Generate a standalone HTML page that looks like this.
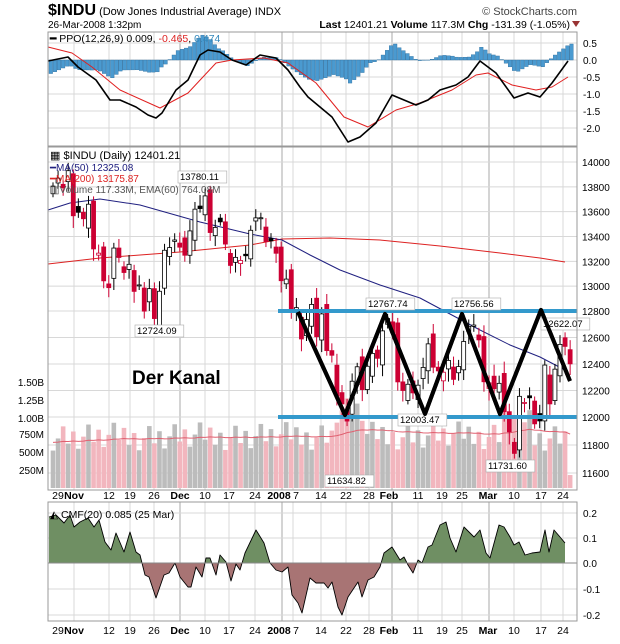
<!DOCTYPE html>
<html><head><meta charset="utf-8"><style>
body{margin:0;background:#fff;width:620px;height:639px;overflow:hidden;font-family:"Liberation Sans",sans-serif}
svg text{font-family:"Liberation Sans",sans-serif}
</style></head><body>
<svg id="s" width="620" height="639" xmlns="http://www.w3.org/2000/svg"></svg>
<script>
const C=[13806,13870,13792,13930,13567,13595,13543,13660,13300,13266,13043,12988,13307,13231,13110,13176,12958,13010,12799,12980,12743,12959,13289,13311,13372,13314,13249,13445,13620,13625,13727,13432,13473,13518,13339,13167,13232,13207,13245,13450,13550,13551,13359,13365,13265,13044,13057,12800,12827,12589,12735,12853,12606,12778,12501,12466,12159,12099,11971,12270,12379,12207,12383,12480,12443,12650,12743,12635,12265,12200,12247,12182,12240,12374,12552,12376,12348,12338,12427,12284,12381,12570,12684,12694,12582,12266,12258,12213,12254,12040,11894,11740,12156,12110,12145,11951,11972,12392,12099,12361,12548,12533,12401];
const X=i=>53+5.07*i;
function Y(p){const P=[[14200,137],[14000,162],[12800,311],[12000,417],[11600,473],[11400,501]];
for(let k=0;k<P.length-1;k++){const a=P[k],b=P[k+1];if(p<=a[0]&&p>=b[0])return a[1]+(a[0]-p)/(a[0]-b[0])*(b[1]-a[1]);}return p>14200?137:501;}
let s='';const L=48,R=577;
function txt(x,y,t,sz,extra){s+=`<text x="${x}" y="${y}" font-size="${sz}" ${extra||''}>${t}</text>`;}
// header
txt(48,15,'<tspan font-weight="bold" font-size="16">$INDU</tspan> (Dow Jones Industrial Average) INDX',11);
txt(577,15,'© StockCharts.com',11,'text-anchor="end" fill="#444"');
txt(48,28,'26-Mar-2008 1:32pm',10);
txt(570,28,'<tspan font-weight="bold">Last</tspan> 12401.21  <tspan font-weight="bold">Volume</tspan> 117.3M  <tspan font-weight="bold">Chg</tspan> -131.39 (-1.05%)',10.5,'text-anchor="end"');
s+=`<polygon points="572,21 580,21 576,27" fill="#993333"/>`;
// panels
const panels=[[32,146],[147,490],[502,621]];
const weeks=[74,109,130,154,180,205,229,255,282,293,321,346,369,392,418,442,462,489,514,541,563];
const months=[180,282,392,489];
panels.forEach(([t,b])=>{
 weeks.forEach(x=>s+=`<line x1="${x}" y1="${t}" x2="${x}" y2="${b}" stroke="#d8d8d8"/>`);
 months.forEach(x=>s+=`<line x1="${x}" y1="${t}" x2="${x}" y2="${b}" stroke="#aaa"/>`);
});
// PPO grid
[43,60,77,94,111,128].forEach((y,k)=>{s+=`<line x1="${L}" y1="${y}" x2="${R}" y2="${y}" stroke="#d8d8d8"/>`;txt(583,y+4,['0.5','0.0','-0.5','-1.0','-1.5','-2.0'][k],10);});
// main grid
const plab=[14000,13800,13600,13400,13200,13000,12800,12600,12400,12200,12000,11800,11600];
plab.forEach(p=>{const y=Y(p);s+=`<line x1="${L}" y1="${y}" x2="${R}" y2="${y}" stroke="#d8d8d8"/>`;txt(582,y+4,p,10);});
[[382,'1.50B'],[400,'1.25B'],[418,'1.00B'],[434,'750M'],[452,'500M'],[470,'250M']].forEach(([y,t])=>txt(44,y+4,t,10,'text-anchor="end"'));
// CMF grid
[[513,'0.2'],[538,'0.1'],[563,'0.0'],[589,'-0.1'],[615,'-0.2']].forEach(([y,t])=>{s+=`<line x1="${L}" y1="${y}" x2="${R}" y2="${y}" stroke="#d8d8d8"/>`;txt(583,y+4,t,10);});
// volume
let ema=[];let e=640;
for(let i=0;i<C.length;i++){
 let v=520+((i*137)%97)*4.2+(i>55&&i<62?350:0)+(i>88&&i<95?250:0);if(i==102)v=180;
 e=e+(v-e)*0.05;ema.push(e);
 const h=v*0.072;const dn=i>0&&C[i]<C[i-1];
 s+=`<rect x="${X(i)-2.3}" y="${488-h}" width="4.6" height="${h}" fill="${dn?'#f2b6be':'#bcbcbc'}"/>`;
}
s+=`<polyline fill="none" stroke="#e06070" stroke-width="1" points="${ema.map((v,i)=>X(i)+','+(488-v*0.072)).join(' ')}"/>`;
// MAs
function pl(pts,c,w){s+=`<polyline fill="none" stroke="${c}" stroke-width="${w}" stroke-linejoin="round" points="${pts.map(p=>p.join(',')).join(' ')}"/>`;}
pl([[48,264],[100,258],[180,252],[250,245],[282,239],[330,238],[380,240],[440,246],[500,253],[540,258],[565,262]],'#dd2222',1);
pl([[48,210],[70,203],[100,199],[140,205],[200,222],[250,234],[282,240],[310,255],[340,270],[380,285],[420,298],[450,314],[480,330],[510,345],[540,357],[565,370]],'#202080',1);
// candles
for(let i=0;i<C.length;i++){
 const c=C[i],o=i?C[i-1]+((i*53)%7-3)*25:c-60;
 const hi=Math.max(o,c)+30+(i*31)%60,lo=Math.min(o,c)-30-(i*17)%70;
 const x=X(i),dn=i>0&&c<C[i-1],col=dn?'#cc0033':'#000';
 s+=`<line x1="${x}" y1="${Y(hi)}" x2="${x}" y2="${Y(lo)}" stroke="${col}"/>`;
 const yt=Y(Math.max(o,c)),yb=Y(Math.min(o,c));
 s+=`<rect x="${x-2}" y="${yt}" width="4" height="${Math.max(1,yb-yt)}" fill="${c<o?(dn?'#cc0033':'#000'):'#fff'}" stroke="${col}" stroke-width="0.8"/>`;
}
// channel
s+=`<line x1="278" y1="311" x2="577" y2="311" stroke="#3399cc" stroke-width="4"/><line x1="278" y1="417" x2="577" y2="417" stroke="#3399cc" stroke-width="4"/>`;
pl([[298,312],[345,415],[385,314],[425,414],[462,314],[500,414],[541,310],[570,381]],'#000',4);
function box(x,y,t){s+=`<rect x="${x}" y="${y-9}" width="${t.length*5.6+4}" height="12" fill="#fff" stroke="#aaa" stroke-width="0.6"/>`;txt(x+2,y,t,9.5);}
box(178,180,'13780.11');box(135,334,'12724.09');box(366,307,'12767.74');box(452,307,'12756.56');box(541,327,'12622.07');box(325,484,'11634.82');box(486,469,'11731.60');box(398,423,'12003.47');
pl([[298,312],[345,415],[385,314],[425,414],[462,314],[500,414],[541,310],[570,381]],'#000',4);
txt(132,384,'Der Kanal',19,'font-weight="bold"');
// main legend
txt(50,159,'▦ $INDU (Daily) 12401.21',11);
txt(50,171,'<tspan fill="#202080">━MA(50) 12325.08</tspan>',10);
txt(50,182,'<tspan fill="#dd2222">━MA(200) 13175.87</tspan>',10);
txt(50,193,'<tspan fill="#555">▥Volume 117.33M, EMA(60) 764.08M</tspan>',10);
// PPO
const B=[[48,61],[68,57],[78,67],[96,80],[110,100],[120,100],[136,107],[148,115],[156,118],[162,113],[176,90],[188,80],[200,55],[208,50],[220,52],[232,60],[246,65],[260,55],[276,58],[288,70],[300,87],[308,97],[320,107],[332,117],[348,142],[360,137],[376,123],[392,95],[404,100],[416,105],[428,100],[440,90],[456,85],[468,77],[480,61],[496,73],[514,98],[528,93],[540,97],[552,83],[560,72],[568,61]];
const Rd=[[48,47],[72,53],[92,67],[120,90],[160,108],[188,93],[216,63],[232,60],[264,58],[288,63],[316,83],[344,117],[368,127],[396,110],[420,103],[452,90],[476,75],[488,73],[512,85],[536,90],[552,87],[568,77]];
function itp(P,x){for(let k=0;k<P.length-1;k++)if(x>=P[k][0]&&x<=P[k+1][0])return P[k][1]+(x-P[k][0])/(P[k+1][0]-P[k][0])*(P[k+1][1]-P[k][1]);return P[P.length-1][1];}
for(let x=49;x<=570;x+=4.1){const h=itp(B,x)-itp(Rd,x);const y2=60+h;s+=`<rect x="${x}" y="${Math.min(60,y2)}" width="3.6" height="${Math.abs(h)}" fill="#4a9ad0" stroke="#2d6f9f" stroke-width="0.4"/>`;}
pl(Rd,'#e02020',1);pl(B,'#000',1.6);
txt(50,42,'<tspan font-weight="bold">━</tspan> PPO(12,26,9) 0.009, <tspan fill="#dd2222">-0.465</tspan>, <tspan fill="#3388bb">0.474</tspan>',10.5);
// CMF
const M=[[49,517],[56,515],[64,523],[70,515],[74,527],[80,522],[88,518],[94,527],[99,520],[105,542],[111,550],[116,533],[124,552],[130,532],[136,552],[140,555],[145,575],[149,577],[156,598],[164,575],[169,573],[175,563],[180,577],[188,587],[191,587],[196,567],[202,577],[206,558],[210,558],[216,575],[220,555],[226,562],[231,581],[236,564],[240,570],[245,553],[256,530],[264,543],[270,563],[276,570],[282,572],[288,567],[292,595],[298,603],[302,613],[310,578],[316,583],[324,583],[328,588],[332,582],[338,607],[342,615],[348,597],[358,582],[362,597],[368,580],[374,577],[380,567],[384,553],[392,547],[400,560],[404,557],[408,565],[413,573],[418,560],[422,563],[428,547],[432,545],[436,535],[440,525],[446,522],[450,538],[456,552],[464,527],[474,537],[480,530],[486,553],[490,558],[499,525],[504,527],[510,537],[514,545],[519,542],[525,555],[532,553],[540,552],[545,530],[549,552],[554,530],[560,537],[565,543]];
const area='49,563 '+M.map(p=>p.join(',')).join(' ')+' 565,563';
s+=`<defs><clipPath id="up"><rect x="0" y="0" width="620" height="563"/></clipPath><clipPath id="dn"><rect x="0" y="563" width="620" height="80"/></clipPath></defs>`;
s+=`<polygon points="${area}" fill="#6f8f63" clip-path="url(#up)"/><polygon points="${area}" fill="#a87474" clip-path="url(#dn)"/>`;
pl(M,'#000',0.9);s+=`<line x1="48" y1="563" x2="577" y2="563" stroke="#888"/>`;
txt(50,518,'◭ CMF(20) 0.085 (25 Mar)',10.5);
// borders
panels.forEach(([t,b])=>s+=`<rect x="${L}" y="${t}" width="${R-L}" height="${b-t}" fill="none" stroke="#999"/>`);
// x labels
const xl=[[58,'29'],[74,'Nov',1],[109,'12'],[130,'19'],[154,'26'],[180,'Dec',1],[205,'10'],[229,'17'],[255,'24'],[279,'2008',1],[296,'7'],[321,'14'],[346,'22'],[369,'28'],[389,'Feb',1],[418,'11'],[442,'19'],[462,'25'],[488,'Mar',1],[514,'10'],[541,'17'],[563,'24']];
[499,634].forEach(y=>xl.forEach(([x,t,b])=>txt(x,y,t,10.5,'text-anchor="middle"'+(b?' font-weight="bold"':''))));
document.getElementById('s').innerHTML=s;
</script>
</body></html>
